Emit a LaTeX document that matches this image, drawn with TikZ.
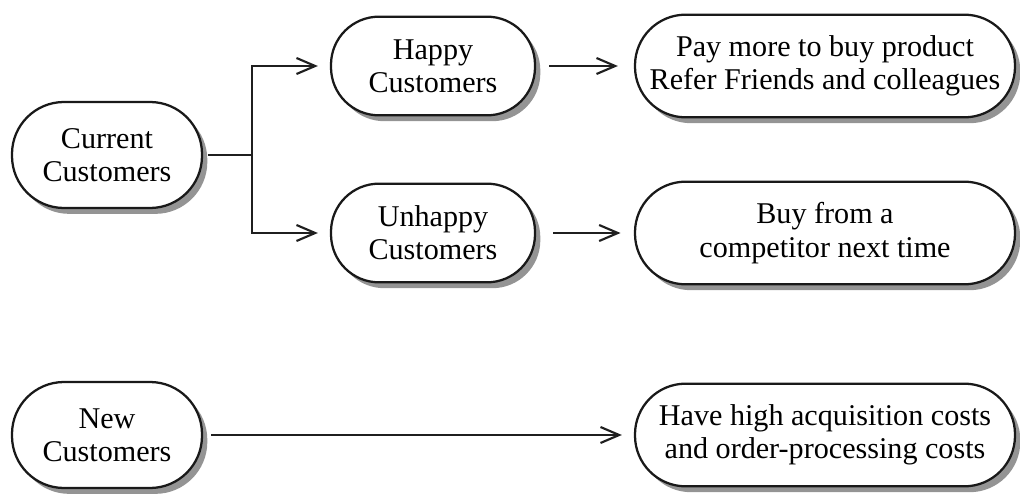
\documentclass[tikz,border=0pt]{standalone}
\usepackage{fontspec}
\setmainfont{Liberation Serif}
\usetikzlibrary{arrows.meta,shadows}
\begin{document}
\begin{tikzpicture}[x=0.75pt,y=-0.75pt,
  pill/.style={draw=black!90, line width=1.7pt, fill=white, rectangle,
    rounded corners=37pt, align=center, inner sep=0pt,
    font=\fontsize{22.6}{25}\selectfont,
    drop shadow={shadow xshift=4pt, shadow yshift=-4.4pt, fill=black!42, opacity=1}},
  leftbox/.style={pill, minimum width=142.5pt, minimum height=79.5pt, rounded corners=39pt},
  midbox/.style={pill, minimum width=153pt, minimum height=74pt, rounded corners=36pt},
  rightbox/.style={pill, minimum width=285pt, minimum height=77pt, rounded corners=38pt},
  link/.style={line width=1.6pt, draw=black!88},
  arr/.style={link, -{Straight Barb[length=14pt,width=12pt,line width=1.6pt]}}
]
\useasboundingbox (0,0) rectangle (1020,495);

% customer groups
\node[leftbox] (cur) at (107,155) {Current\\Customers};
\node[midbox] (happy) at (433,66) {Happy\\Customers};
\node[midbox] (unhappy) at (433,233) {Unhappy\\Customers};
\node[leftbox] (new) at (107,435) {New\\Customers};

% outcomes
\node[rightbox] (pay) at (825,66) {Pay more to buy product\\Refer Friends and colleagues};
\node[rightbox] (buy) at (825,233) {Buy from a\\competitor next time};
\node[rightbox] (have) at (825,435) {Have high acquisition costs\\and order-processing costs};

% branching from current customers
\coordinate (fork) at (252,155);
\coordinate (forktop) at (252,66);
\coordinate (forkbot) at (252,233);
\draw[link] ([xshift=4pt]cur.east) -- (fork);
\draw[link, line cap=rect] (forktop) -- (forkbot);
\draw[arr, shorten >=9pt] (forktop) -- (happy.west);
\draw[arr, shorten >=9pt] (forkbot) -- (unhappy.west);

% outcome arrows
\draw[arr, shorten <=10pt, shorten >=12pt] (happy.east) -- (pay.west);
\draw[arr, shorten <=13pt, shorten >=10pt] (unhappy.east) -- (buy.west);
\draw[arr, shorten <=6pt, shorten >=9pt] (new.east) -- (have.west);
\end{tikzpicture}
\end{document}
